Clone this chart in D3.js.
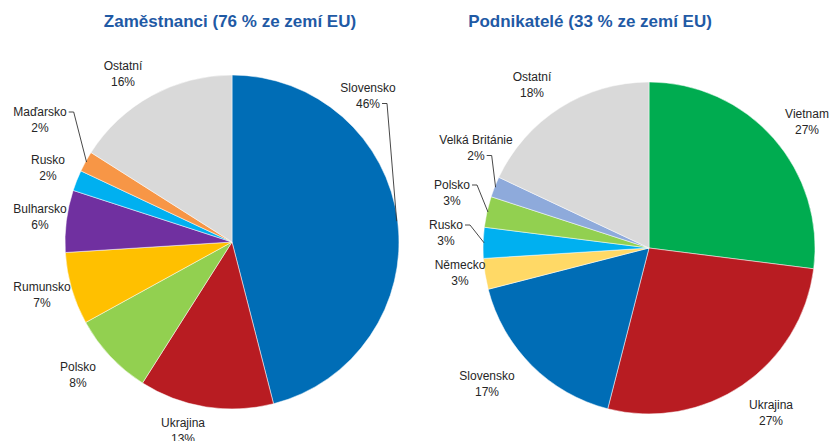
<!DOCTYPE html>
<html>
<head>
<meta charset="utf-8">
<script src="https://cdn.jsdelivr.net/npm/d3@7"></script>
<style>
  body { margin: 0; background: #fff; }
  svg { display: block; font-family: 'Liberation Sans', Arial, sans-serif; }
</style>
</head>
<body>
<svg id="chart" width="831" height="441"></svg>
<script>
// Zaměstnanci
const empTitle = 'Zaměstnanci (76 % ze zemí EU)'
const empCountries = ['Slovensko', 'Ukrajina', 'Polsko', 'Rumunsko', 'Bulharsko', 'Rusko', 'Maďarsko', 'Ostatní']
const empShares = [46, 13, 8, 7, 6, 2, 2, 16]

// Podnikatelé
const entTitle = 'Podnikatelé (33 % ze zemí EU)'
const entCountries = ['Vietnam', 'Ukrajina', 'Slovensko', 'Německo', 'Rusko', 'Polsko', 'Velká Británie', 'Ostatní']
const entShares = [27, 27, 17, 3, 3, 3, 2, 18]

const colors = {
  'Slovensko': '#006db6',
  'Ukrajina': '#b81c22',
  'Polsko': '#92d050',
  'Rumunsko': '#ffc000',
  'Bulharsko': '#7030a0',
  'Rusko': '#00b0f0',
  'Maďarsko': '#f79646',
  'Ostatní': '#d9d9d9',
  'Vietnam': '#00ac50',
  'Německo': '#ffd966',
  'Velká Británie': '#8eaadb'
}

// label placement relative to pie centre: dx, baseline dy of the name line,
// and which line the leader starts from (0 = name, 1 = percent), if any
const empLabels = {
  'Slovensko': [136, -150, 1],
  'Ukrajina': [-49, 185],
  'Polsko': [-154, 129],
  'Rumunsko': [-190, 49],
  'Bulharsko': [-192, -29],
  'Rusko': [-184, -78],
  'Maďarsko': [-192, -126, 0],
  'Ostatní': [-109, -172]
}
const entLabels = {
  'Vietnam': [158, -130],
  'Ukrajina': [122, 161],
  'Slovensko': [-162, 132],
  'Německo': [-189, 21],
  'Rusko': [-203, -19, 0],
  'Polsko': [-197, -59, 0],
  'Velká Británie': [-173, -104, 1],
  'Ostatní': [-117, -167]
}

const svg = d3.select('#chart')

function drawPie (cx, cy, r, titleX, title, names, values, labels) {
  const data = names.map((n, i) => ({ name: n, value: values[i] }))
  const pie = d3.pie().sort(null).value(d => d.value)
  const arc = d3.arc().innerRadius(0).outerRadius(r)
  const arcs = pie(data)

  svg.append('text')
     .attr('x', titleX)
     .attr('y', 27)
     .attr('text-anchor', 'middle')
     .attr('font-size', 17)
     .attr('font-weight', 'bold')
     .attr('fill', '#1f5aa5')
     .text(title)

  const g = svg.append('g').attr('transform', `translate(${cx},${cy})`)
  g.selectAll('path')
   .data(arcs)
   .enter()
   .append('path')
   .attr('d', arc)
   .attr('fill', d => colors[d.data.name])
   .attr('stroke', '#fff')
   .attr('stroke-width', 0.5)

  arcs.forEach(a => {
    const [dx, dy, leader] = labels[a.data.name]
    const t = g.append('text')
               .attr('x', dx)
               .attr('y', dy)
               .attr('text-anchor', 'middle')
               .attr('font-size', 12)
               .attr('fill', '#262626')
    const s1 = t.append('tspan').attr('x', dx).text(a.data.name)
    const s2 = t.append('tspan').attr('x', dx).attr('dy', 15.5).text(a.data.value + '%')

    if (leader !== undefined) {
      // leader from the end of a label line to the middle of the slice edge
      const mid = (a.startAngle + a.endAngle) / 2
      const [ex, ey] = d3.pointRadial(mid, r - 1)
      const span = leader === 0 ? s1 : s2
      const w = span.node().getComputedTextLength()
      const sx = dx + w / 2 + 2
      const sy = dy + leader * 15.5 - 4
      g.append('path')
       .attr('d', `M${sx},${sy}H${sx + 5}L${ex},${ey}`)
       .attr('fill', 'none')
       .attr('stroke', '#333')
       .attr('stroke-width', 0.9)
    }
  })
}

drawPie(232, 242, 167, 230, empTitle, empCountries, empShares, empLabels)
drawPie(649, 248, 166, 590, entTitle, entCountries, entShares, entLabels)
</script>
</body>
</html>
